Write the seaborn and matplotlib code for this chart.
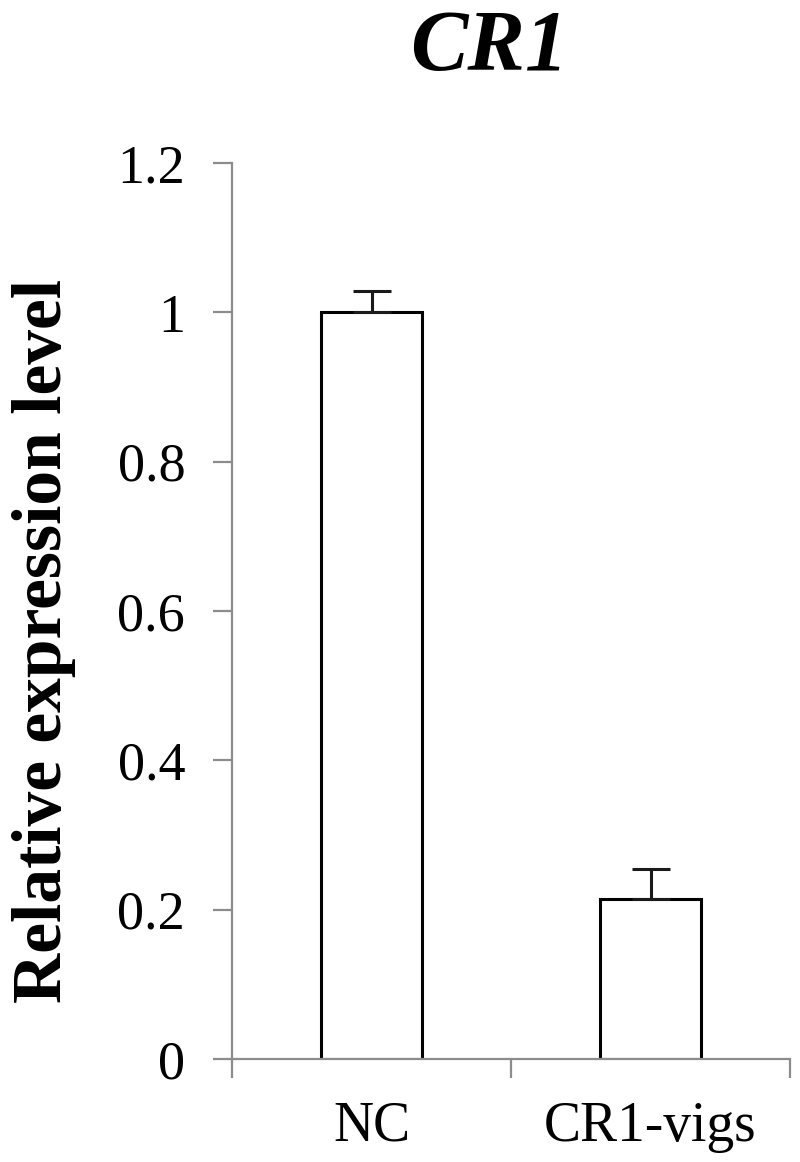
import numpy as np
import seaborn as sns
from matplotlib import pyplot as plt
from matplotlib.ticker import FuncFormatter

# ===== data =====
categories = ["NC", "CR1-vigs"]
values = [1.0, 0.214]
errors = [0.029, 0.04]
y_ticks = [0, 0.2, 0.4, 0.6, 0.8, 1.0, 1.2]

sns.set_style("white")
plt.rcParams['font.family'] = ['Liberation Serif', 'DejaVu Serif']
plt.rcParams['text.color'] = 'black'
plt.rcParams['xtick.labelcolor'] = 'black'
plt.rcParams['ytick.labelcolor'] = 'black'

fig = plt.figure(figsize=(8, 11.62), dpi=100)
ax = fig.add_axes([0.29, 0.0886, 0.6975, 0.7711])

sns.barplot(x=categories, y=values, color="white", edgecolor="black",
            linewidth=2.2, width=0.36, errorbar=None, ax=ax)
ax.errorbar(range(len(values)), values, yerr=[[0] * len(errors), errors],
            fmt="none", ecolor="#1a1a1a", elinewidth=2.2, capsize=13.5,
            capthick=2.2)

# axes styling
axis_color = "#8c8c8c"
for side in ["top", "right"]:
    ax.spines[side].set_visible(False)
for side in ["left", "bottom"]:
    ax.spines[side].set_color(axis_color)
    ax.spines[side].set_linewidth(1.6)

ax.set_ylim(0, 1.2)
ax.set_xlim(-0.5, 1.5)
ax.set_yticks(y_ticks)
ax.yaxis.set_major_formatter(FuncFormatter(lambda v, p: f"{v:g}"))
ax.tick_params(axis="y", direction="out", length=13.7, width=1.6,
               color=axis_color, labelcolor="black", labelsize=39, pad=20,
               left=True)

# category labels sit between boundary ticks
ax.set_xticks([-0.5, 0.5, 1.5])
ax.set_xticklabels(["", "", ""])
ax.set_xticks([0, 1], minor=True)
ax.set_xticklabels(categories, minor=True)
ax.tick_params(axis="x", which="major", direction="out", length=13.7,
               width=1.6, color=axis_color, bottom=True)
ax.tick_params(axis="x", which="minor", length=0, labelsize=40, pad=30,
               labelcolor="black")
ax.set_xlabel("")
ax.set_ylabel("")

fig.text(489 / 800, 0.9398, "CR1", fontsize=62, fontweight="bold",
         fontstyle="italic", ha="center", va="baseline", color="black")
fig.text(44 / 800, 0.448, "Relative expression level", fontsize=50,
         fontweight="bold", rotation=90, ha="center", va="center",
         color="black")

fig.savefig("out.png", dpi=100)
